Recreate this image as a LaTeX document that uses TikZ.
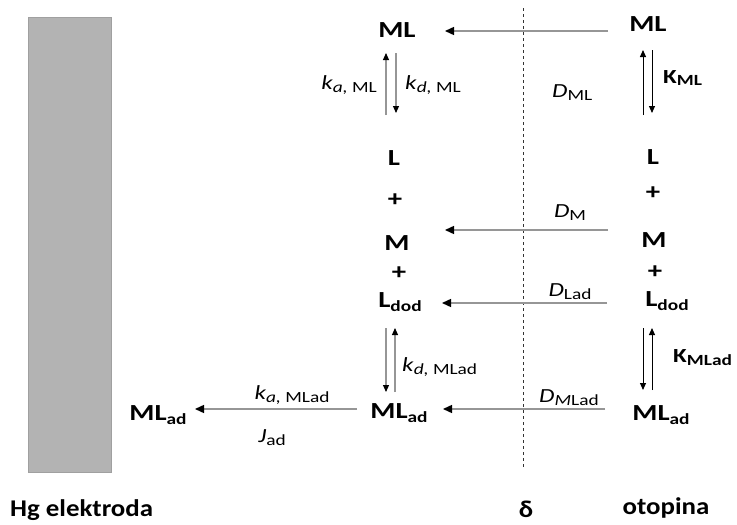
\documentclass[tikz,border=0pt]{standalone}
\usepackage{fontspec}
\setmainfont[FakeStretch=1.25]{Carlito}
\newfontfamily\bfont[FakeStretch=1.12]{Carlito}
\usetikzlibrary{arrows.meta}
\definecolor{hggray}{RGB}{179,179,179}
\definecolor{hgedge}{RGB}{160,160,160}
\definecolor{linegray}{RGB}{150,150,150}
\newcommand\subx[1]{\raisebox{-0.3ex}{\fontsize{15.5}{16}\selectfont #1}}
\newcommand\subl[1]{\raisebox{-0.3ex}{\fontsize{15.5}{16}\selectfont #1}}
\tikzset{
  spec/.style={font=\bfseries\fontsize{23}{25}\selectfont, inner sep=0pt},
  lab/.style={font=\fontsize{20}{22}\selectfont, inner sep=0pt},
  bottomlab/.style={font=\bfont\bfseries\fontsize{24}{26}\selectfont, inner sep=0pt},
  flow/.style={draw=linegray, line width=1.4pt, -{Triangle[color=black,length=9pt,width=8pt]}},
  vgray/.style={draw=linegray, line width=1.1pt, -{Triangle[color=black,length=7pt,width=6pt]}},
  vblack/.style={draw=black, line width=1pt, -{Triangle[color=black,length=7pt,width=6pt]}},
}
\begin{document}
\begin{tikzpicture}[x=1pt,y=-1pt]
\useasboundingbox (0,0) rectangle (737,525);
% electrode
\node[draw=hgedge, fill=hggray, line width=1pt, minimum width=83pt, minimum height=455pt, inner sep=0pt] (hg) at (69.5,244.5) {};
% diffusion layer boundary
\coordinate (dtop) at (523,8);
\coordinate (dbot) at (523,468);
\draw[black!80, line width=1pt, dash pattern=on 3pt off 3pt] (dtop) -- (dbot);
% species
\node[spec] (MLl) at (397,30) {ML};
\node[spec] (MLr) at (648,24) {ML};
\node[spec] (Ll) at (394,158) {L};
\node[spec] (p1l) at (395,200) {+};
\node[spec] (Ml) at (397,243) {M};
\node[spec] (p2l) at (399,273) {+};
\node[spec] (Ldl) at (400,302) {L\subx{dod}};
\node[spec] (Lr) at (653,157) {L};
\node[spec] (p1r) at (653,193) {+};
\node[spec] (Mr) at (654,240) {M};
\node[spec] (p2r) at (655,272) {+};
\node[spec] (Ldr) at (667,301) {L\subx{dod}};
\node[spec] (MLadl) at (158,415) {ML\subx{ad}};
\node[spec] (MLadm) at (399,413) {ML\subx{ad}};
\node[spec] (MLadr) at (661,415) {ML\subx{ad}};
% horizontal fluxes
\coordinate (h1s) at (608,31);  \coordinate (h1e) at (445,31);
\coordinate (h2s) at (608,230); \coordinate (h2e) at (445,230);
\coordinate (h3s) at (607,303); \coordinate (h3e) at (442,303);
\coordinate (h4s) at (605,409); \coordinate (h4e) at (443,409);
\coordinate (h5s) at (357,409); \coordinate (h5e) at (195,409);
\draw[flow] (h1s) -- (h1e);
\draw[flow] (h2s) -- (h2e);
\draw[flow] (h3s) -- (h3e);
\draw[flow] (h4s) -- (h4e);
\draw[flow] (h5s) -- (h5e);
% vertical equilibria
\coordinate (v1a) at (386,115); \coordinate (v1b) at (386,53);
\coordinate (v2a) at (396,53);  \coordinate (v2b) at (396,113);
\draw[vgray] (v1a) -- (v1b);
\draw[vgray] (v2a) -- (v2b);
\coordinate (v3a) at (643,115); \coordinate (v3b) at (643,50);
\coordinate (v4a) at (652,50);  \coordinate (v4b) at (652,113);
\draw[vblack] (v3a) -- (v3b);
\draw[vblack] (v4a) -- (v4b);
\coordinate (v5a) at (386,328); \coordinate (v5b) at (386,392);
\coordinate (v6a) at (395,392); \coordinate (v6b) at (395,328);
\draw[vgray] (v5a) -- (v5b);
\draw[vgray] (v6a) -- (v6b);
\coordinate (v7a) at (643,328); \coordinate (v7b) at (643,390);
\coordinate (v8a) at (652,390); \coordinate (v8b) at (652,328);
\draw[vblack] (v7a) -- (v7b);
\draw[vblack] (v8a) -- (v8b);
% labels
\node[lab, anchor=east] (kaML) at (377,85) {\textit{k}\subl{\textit{a,} ML}};
\node[lab, anchor=west] (kdML) at (405,85) {\textit{k}\subl{\textit{d,} ML}};
\node[lab, anchor=west] (DML) at (552,93) {\textit{D}\subl{ML}};
\node[lab, anchor=west] (KML) at (663,78) {\textbf{K\subl{ML}}};
\node[lab] (DM) at (570,213) {\textit{D}\subl{M}};
\node[lab] (DLad) at (570,292) {\textit{D}\subl{Lad}};
\node[lab, anchor=west] (kdMLad) at (402,367) {\textit{k}\subl{\textit{d,} MLad}};
\node[lab, anchor=west] (KMLad) at (673,358) {\textbf{K\subl{MLad}}};
\node[lab] (DMLad) at (569,398) {\textit{D}\subl{\textit{M}Lad}};
\node[lab] (kaMLad) at (292,395) {\textit{k}\subl{\textit{a,} MLad}};
\node[lab] (Jad) at (272,438) {\textit{J}\subl{ad}};
% bottom captions
\node[bottomlab, anchor=west] (hgl) at (10,510) {Hg elektroda};
\node[bottomlab] (delta) at (526,509) {δ};
\node[bottomlab] (otop) at (666,508) {otopina};
\end{tikzpicture}
\end{document}
